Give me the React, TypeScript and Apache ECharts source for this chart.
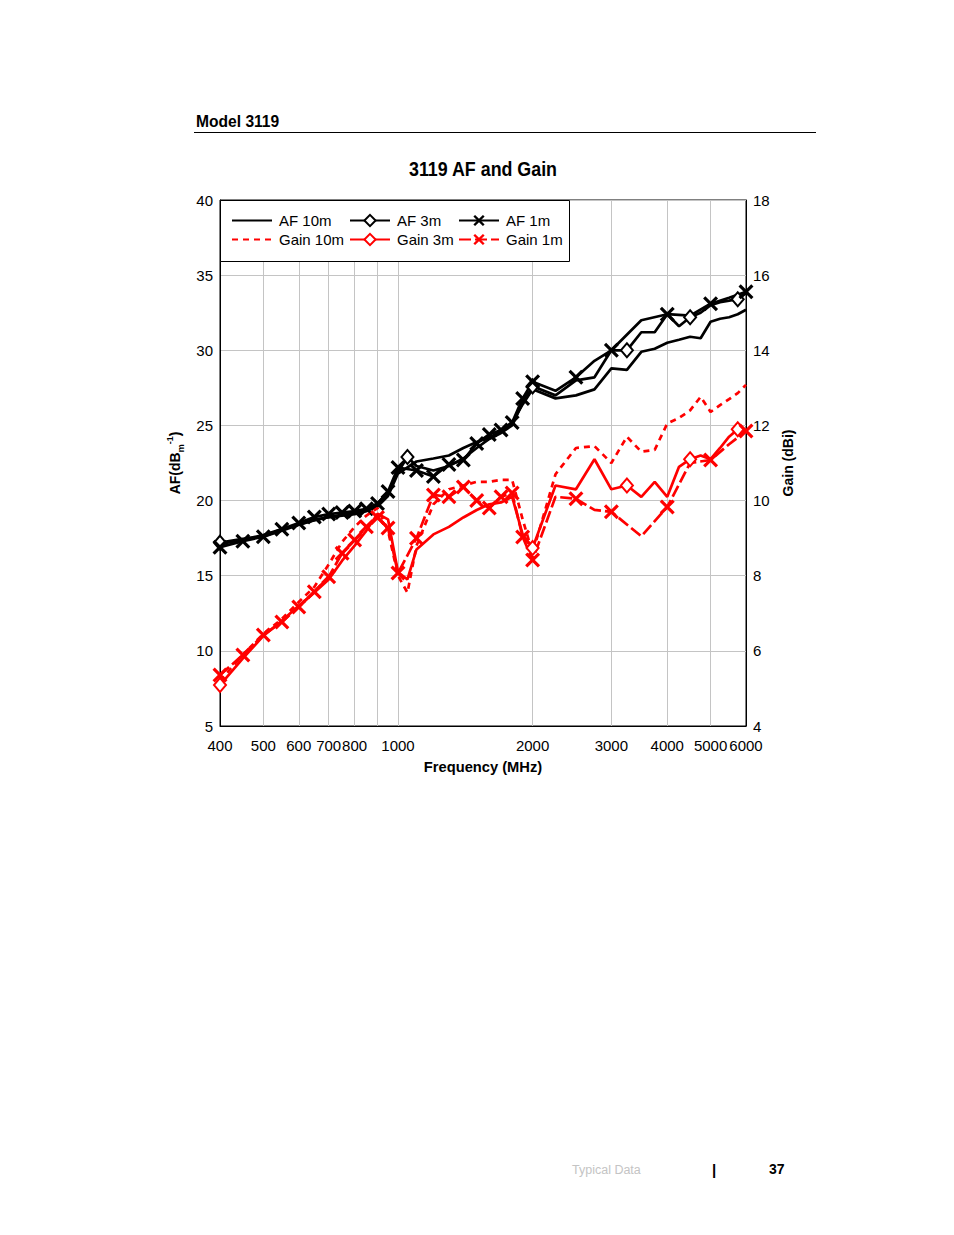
import React, { useEffect, useRef } from "react";
import * as echarts from "echarts";

// ---------------- data ----------------
const FREQ_AF_10M = [400, 450, 500, 550, 600, 650, 700, 750, 800, 850, 900, 950, 1000,
  1100, 1200, 1300, 1400, 1500, 1600, 1700, 1800, 1900, 2000,
  2250, 2500, 2750, 3000, 3250, 3500, 3750, 4000, 4250, 4500, 4750, 5000, 5250, 5500, 5750, 6000];
const AF_10M = [17.1, 17.4, 17.7, 18.1, 18.4, 18.7, 18.9, 19.0, 19.1, 19.3, 19.6, 20.3, 21.8,
  22.6, 22.8, 23.0, 23.5, 23.9, 24.2, 24.6, 25.2, 26.4, 27.4,
  26.8, 27.0, 27.4, 28.8, 28.7, 29.9, 30.1, 30.5, 30.7, 30.9, 30.8, 31.9, 32.1, 32.2, 32.4, 32.7];

const FREQ_3M = [400, 450, 500, 550, 600, 650, 700, 750, 800, 850, 900, 950, 1000, 1050,
  1100, 1200, 1300, 1400, 1500, 1600, 1700, 1800, 1900, 2000,
  2250, 2500, 2750, 3000, 3250, 3500, 3750, 4000, 4250, 4500, 4750, 5000, 5250, 5500, 5750, 6000];
const AF_3M = [17.2, 17.45, 17.6, 18.0, 18.4, 18.7, 18.9, 19.05, 19.2, 19.35, 19.7, 20.5, 21.9, 22.9,
  22.3, 22.0, 22.3, 22.8, 23.5, 24.1, 24.5, 25.0, 26.5, 27.6,
  27.0, 28.0, 28.2, 30.0, 30.0, 31.2, 31.2, 32.4, 31.6, 32.2, 32.5, 33.0, 33.2, 33.3, 33.4, 33.8];
const MARKED_AF_3M = [400, 1050, 2000, 3250, 4500, 5750];
const MARKED_GAIN_3M = [400, 2000, 3250, 4500, 5750];

const FREQ_1M = [400, 450, 500, 550, 600, 650, 700, 750, 800, 850, 900, 950, 1000,
  1100, 1200, 1300, 1400, 1500, 1600, 1700, 1800, 1900, 2000,
  2250, 2500, 2750, 3000, 3500, 4000, 4500, 5000, 5500, 6000];
const AF_1M = [16.9, 17.3, 17.6, 18.1, 18.5, 18.9, 19.1, 19.2, 19.3, 19.45, 19.8, 20.6, 22.2,
  22.0, 21.6, 22.4, 22.7, 23.8, 24.4, 24.7, 25.2, 26.8, 27.9,
  27.3, 28.2, 29.3, 30.0, 32.0, 32.4, 32.3, 33.1, 33.5, 33.9];
const MARKED_1M = [400, 450, 500, 550, 600, 650, 700, 750, 800, 850, 900, 950, 1000,
  1100, 1200, 1300, 1400, 1500, 1600, 1700, 1800, 1900, 2000, 2500, 3000, 4000, 5000, 6000];

const FREQ_GAIN_10M = FREQ_3M;
const GAIN_10M = [5.2, 5.9, 6.45, 6.85, 7.3, 7.7, 8.3, 8.9, 9.3, 9.6, 9.8, 9.2, 8.0, 7.55,
  8.8, 9.9, 10.3, 10.4, 10.5, 10.5, 10.55, 10.55, 9.5, 8.6,
  10.7, 11.4, 11.45, 11.0, 11.7, 11.3, 11.35, 12.05, 12.2, 12.4, 12.76, 12.36, 12.54, 12.7, 12.86, 13.08];
const GAIN_3M = [5.09, 5.8, 6.4, 6.8, 7.2, 7.55, 7.9, 8.4, 8.8, 9.2, 9.65, 9.5, 8.1, 7.9,
  8.7, 9.1, 9.3, 9.55, 9.75, 9.9, 9.95, 10.1, 9.1, 8.74,
  10.4, 10.3, 11.1, 10.3, 10.4, 10.1, 10.5, 10.1, 10.9, 11.1, 11.2, 11.1, 11.4, 11.7, 11.9, 11.85];
const GAIN_1M = [5.36, 5.89, 6.42, 6.77, 7.17, 7.57, 7.97, 8.6, 8.95, 9.3, 9.55, 9.27, 8.07,
  9.0, 10.15, 10.1, 10.36, 10.0, 9.8, 10.1, 10.2, 9.03, 8.42,
  10.1, 10.05, 9.75, 9.7, 9.05, 9.83, 11.0, 11.08, 11.5, 11.85];

const X_LABEL_FREQS = [400, 500, 600, 700, 800, 1000, 2000, 3000, 4000, 5000, 6000];
const X_GRID_FREQS = [400, 500, 600, 700, 800, 900, 1000, 2000, 3000, 4000, 5000, 6000];
const F_MIN = 400;
const F_MAX = 6000;

// ---------------- styles ----------------
const NARROW = "'Liberation Sans Narrow', 'Liberation Sans', Arial, sans-serif";
const SANS = "'Liberation Sans', Arial, sans-serif";
const X_PATH = "path://M0,1.5L1.5,0L5,3.5L8.5,0L10,1.5L6.5,5L10,8.5L8.5,10L5,6.5L1.5,10L0,8.5L3.5,5Z";
const BLACK = "#000000";
const RED = "#ff0000";

function buildData(freqs: number[], vals: number[], marked?: number[]) {
  return freqs.map((f, i) => {
    const item: any = { value: [Math.log10(f), vals[i]] };
    if (marked && !marked.includes(f)) item.symbol = "none";
    return item;
  });
}

export default function App() {
  const ref = useRef<HTMLDivElement>(null);

  useEffect(() => {
    if (!ref.current) return;
    const chart = echarts.init(ref.current, undefined, { renderer: "svg" });

    const legendCommon = {
      orient: "vertical",
      top: 213,
      itemGap: 4,
      itemWidth: 40,
      itemHeight: 14,
      padding: 0,
      selectedMode: false,
      textStyle: { fontSize: 15, fontFamily: NARROW, color: "#000", padding: [0, 0, 0, 2] },
    };
    const noMarker = { itemStyle: { opacity: 0 } };

    const option: any = {
      animation: false,
      backgroundColor: "#ffffff",
      grid: {
        left: 220,
        top: 200,
        width: 526,
        height: 526,
        show: true,
        borderColor: "#000",
        borderWidth: 1,
        backgroundColor: "transparent",
      },
      legend: [
        { ...legendCommon, left: 231, data: [{ name: "AF 10m", ...noMarker }, { name: "Gain 10m", ...noMarker }] },
        { ...legendCommon, left: 349, data: ["AF 3m", "Gain 3m"] },
        { ...legendCommon, left: 458, data: ["AF 1m", "Gain 1m"] },
      ],
      xAxis: {
        type: "value",
        min: Math.log10(F_MIN),
        max: Math.log10(F_MAX),
        name: "Frequency (MHz)",
        nameLocation: "middle",
        nameGap: 33,
        nameTextStyle: { fontSize: 14.7, fontWeight: "bold", fontFamily: SANS, color: "#000" },
        axisLine: { show: true, lineStyle: { color: "#000", width: 1 } },
        axisTick: { show: false, customValues: X_GRID_FREQS.map((f) => Math.log10(f)) },
        axisLabel: {
          customValues: X_LABEL_FREQS.map((f) => Math.log10(f)),
          formatter: (v: number) => String(Math.round(Math.pow(10, v))),
          showMinLabel: true,
          showMaxLabel: true,
          hideOverlap: false,
          fontSize: 15,
          fontFamily: NARROW,
          color: "#000",
          margin: 12,
        },
        splitLine: { show: true, lineStyle: { color: "#c4c4c4", width: 1 } },
      },
      yAxis: [
        {
          type: "value",
          min: 5,
          max: 40,
          interval: 5,
          position: "left",
          name: "AF(dB{sub|m}{sup|-1})",
          nameLocation: "middle",
          nameGap: 26,
          nameRotate: 90,
          nameTextStyle: {
            fontSize: 14,
            fontWeight: "bold",
            fontFamily: SANS,
            color: "#000",
            lineHeight: 20,
            rich: {
              sub: { fontSize: 9, fontWeight: "bold", fontFamily: SANS, lineHeight: 9, verticalAlign: "bottom" },
              sup: { fontSize: 9, fontWeight: "bold", fontFamily: SANS, lineHeight: 9, verticalAlign: "top" },
            },
          },
          axisLine: { show: true, lineStyle: { color: "#000", width: 1 } },
          axisTick: { show: false },
          axisLabel: { fontSize: 15, fontFamily: NARROW, color: "#000", margin: 7 },
          splitLine: { show: true, lineStyle: { color: "#c4c4c4", width: 1 } },
        },
        {
          type: "value",
          min: 4,
          max: 18,
          interval: 2,
          position: "right",
          name: "Gain (dBi)",
          nameLocation: "middle",
          nameGap: 29,
          nameRotate: 90,
          nameTextStyle: { fontSize: 14, fontWeight: "bold", fontFamily: SANS, color: "#000" },
          axisLine: { show: true, lineStyle: { color: "#000", width: 1 } },
          axisTick: { show: false },
          axisLabel: { fontSize: 15, fontFamily: NARROW, color: "#000", margin: 7 },
          splitLine: { show: false },
        },
      ],
      series: [
        {
          name: "AF 10m",
          type: "line",
          yAxisIndex: 0,
          data: buildData(FREQ_AF_10M, AF_10M),
          symbol: "none",
          color: BLACK,
          lineStyle: { color: BLACK, width: 2.7 },
          emphasis: { disabled: true },
          z: 2,
        },
        {
          name: "AF 3m",
          type: "line",
          yAxisIndex: 0,
          data: buildData(FREQ_3M, AF_3M, MARKED_AF_3M),
          symbol: "emptyDiamond",
          symbolSize: [12, 14],
          color: BLACK,
          itemStyle: { color: BLACK, borderWidth: 2.5 },
          lineStyle: { color: BLACK, width: 2.7 },
          emphasis: { disabled: true },
          z: 2,
        },
        {
          name: "AF 1m",
          type: "line",
          yAxisIndex: 0,
          data: buildData(FREQ_1M, AF_1M, MARKED_1M),
          symbol: X_PATH,
          symbolSize: 15,
          color: BLACK,
          itemStyle: { color: BLACK, borderWidth: 0 },
          lineStyle: { color: BLACK, width: 2.7 },
          emphasis: { disabled: true },
          z: 2,
        },
        {
          name: "Gain 10m",
          type: "line",
          yAxisIndex: 1,
          data: buildData(FREQ_GAIN_10M, GAIN_10M),
          symbol: "none",
          color: RED,
          lineStyle: { color: RED, width: 2.7, type: [6, 5] },
          emphasis: { disabled: true },
          z: 3,
        },
        {
          name: "Gain 3m",
          type: "line",
          yAxisIndex: 1,
          data: buildData(FREQ_3M, GAIN_3M, MARKED_GAIN_3M),
          symbol: "emptyDiamond",
          symbolSize: [12, 14],
          color: RED,
          itemStyle: { color: RED, borderWidth: 2.5 },
          lineStyle: { color: RED, width: 2.7 },
          emphasis: { disabled: true },
          z: 3,
        },
        {
          name: "Gain 1m",
          type: "line",
          yAxisIndex: 1,
          data: buildData(FREQ_1M, GAIN_1M, MARKED_1M),
          symbol: X_PATH,
          symbolSize: 15,
          color: RED,
          itemStyle: { color: RED, borderWidth: 0 },
          lineStyle: { color: RED, width: 2.7, type: [12, 4] },
          emphasis: { disabled: true },
          z: 3,
        },
      ],
      graphic: {
        elements: [
          {
            type: "rect",
            z: 3,
            shape: { x: 220.5, y: 200.5, width: 349, height: 61 },
            style: { fill: "#ffffff", stroke: "#000", lineWidth: 1 },
          },
          {
            type: "text",
            x: 196,
            y: 121,
            style: { text: "Model 3119", fontSize: 15.6, fontWeight: "bold", fontFamily: SANS, fill: "#000", align: "left", verticalAlign: "middle" },
          },
          {
            type: "line",
            shape: { x1: 194, y1: 132.5, x2: 816, y2: 132.5 },
            style: { stroke: "#000", lineWidth: 1.2 },
          },
          {
            type: "text",
            x: 483,
            y: 168,
            scaleX: 0.85,
            style: { text: "3119 AF and Gain", fontSize: 21, fontWeight: "bold", fontFamily: SANS, fill: "#000", align: "center", verticalAlign: "middle" },
          },
          {
            type: "text",
            x: 572,
            y: 1170,
            style: { text: "Typical Data", fontSize: 12.5, fontFamily: SANS, fill: "#c4c4c4", align: "left", verticalAlign: "middle" },
          },
          {
            type: "text",
            x: 714,
            y: 1169,
            style: { text: "|", fontSize: 15, fontWeight: "bold", fontFamily: SANS, fill: "#000", align: "center", verticalAlign: "middle" },
          },
          {
            type: "text",
            x: 769,
            y: 1169,
            style: { text: "37", fontSize: 14, fontWeight: "bold", fontFamily: SANS, fill: "#000", align: "left", verticalAlign: "middle" },
          },
        ],
      },
    };

    chart.setOption(option);
    return () => chart.dispose();
  }, []);

  return (
    <div
      ref={ref}
      style={{ position: "absolute", left: 0, top: 0, width: 954, height: 1235, background: "#fff" }}
    />
  );
}
